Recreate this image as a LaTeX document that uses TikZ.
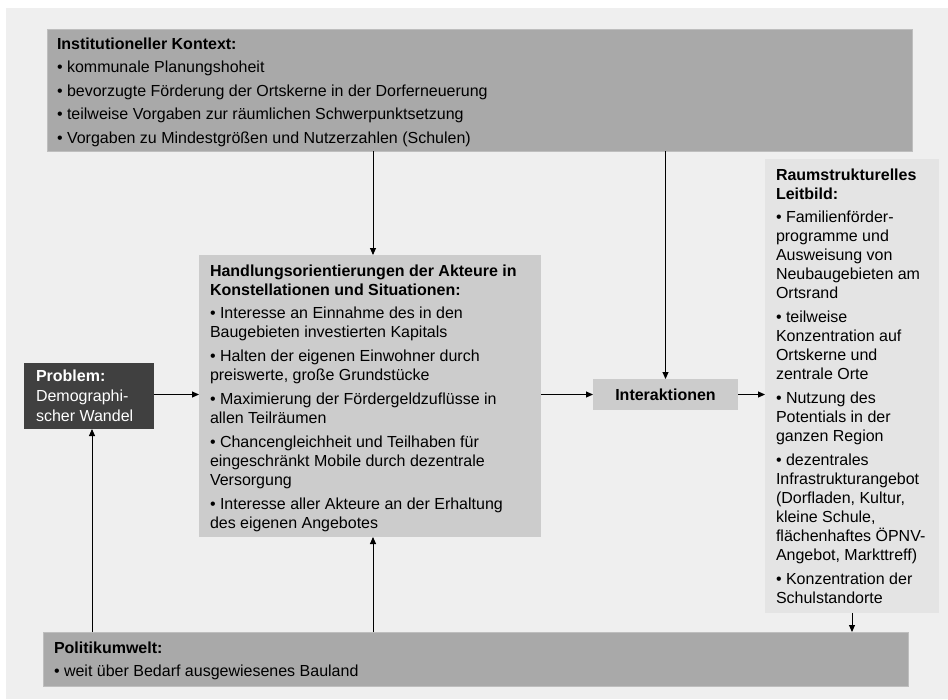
\documentclass[tikz,border=0pt]{standalone}
\usepackage{fontspec}
\setmainfont{Liberation Sans}
\usetikzlibrary{arrows.meta}
\definecolor{bgc}{HTML}{EFEFEF}
\definecolor{darkbox}{HTML}{A9A9A9}
\definecolor{darkedge}{HTML}{BEBEBE}
\definecolor{midbox}{HTML}{CCCCCC}
\definecolor{lightbox}{HTML}{E4E4E4}
\definecolor{probbox}{HTML}{404040}
\newcommand{\gp}{\\[4.8pt]}
\newcommand{\txt}[2]{\parbox[t]{#1}{\raggedright\fontsize{16pt}{19pt}\selectfont #2}}
\begin{document}
\begin{tikzpicture}[x=1pt,y=-1pt,
  boxbase/.style={anchor=north west,inner sep=0pt,outer sep=0pt},
  graybox/.style={boxbase,fill=darkbox,draw=darkedge,line width=0.6pt},
  midgray/.style={boxbase,fill=midbox},
  lightgray/.style={boxbase,fill=lightbox},
  darkgray/.style={boxbase,fill=probbox},
  label/.style={anchor=base west,inner sep=0pt,outer sep=0pt,align=left},
  arr/.style={line width=0.9pt,-{Triangle[length=7pt,width=6pt]}}
]
\useasboundingbox (0,0) rectangle (948,699);
\fill[white] (0,0) rectangle (948,699);
\fill[bgc] (6,8) rectangle (948,699);

% boxes
\node[graybox,minimum width=865pt,minimum height=122pt] (inst) at (47,29) {};
\node[midgray,minimum width=342pt,minimum height=282pt] (hand) at (199,255) {};
\node[darkgray,minimum width=130pt,minimum height=66pt] (prob) at (24,363) {};
\node[midgray,minimum width=145pt,minimum height=31pt] (inter) at (593,379) {};
\node[lightgray,minimum width=174pt,minimum height=454pt] (raum) at (765,159) {};
\node[graybox,minimum width=865pt,minimum height=54pt] (pol) at (43,632) {};

% helper coordinates
\coordinate (handtop) at ([xshift=3pt]hand.north);
\coordinate (handbot) at ([xshift=3pt]hand.south);
\coordinate (probbot) at ([xshift=3pt]prob.south);

% texts
\node[label] (insttext) at (57,49) {\txt{840pt}{%
\textbf{Institutioneller Kontext:}\\[4.5pt]
• kommunale Planungshoheit\\[4.5pt]
• bevorzugte Förderung der Ortskerne in der Dorferneuerung\\[4.5pt]
• teilweise Vorgaben zur räumlichen Schwerpunktsetzung\\[4.5pt]
• Vorgaben zu Mindestgrößen und Nutzerzahlen (Schulen)}};

\node[label] (handtext) at (210,276) {\txt{330pt}{%
\textbf{Handlungsorientierungen der Akteure in}\\
\textbf{Konstellationen und Situationen:}\gp
• Interesse an Einnahme des in den\\
Baugebieten investierten Kapitals\gp
• Halten der eigenen Einwohner durch\\
preiswerte, große Grundstücke\gp
• Maximierung der Fördergeldzuflüsse in\\
allen Teilräumen\gp
• Chancengleichheit und Teilhaben für\\
eingeschränkt Mobile durch dezentrale\\
Versorgung\gp
• Interesse aller Akteure an der Erhaltung\\
des eigenen Angebotes}};

\node[label] (raumtext) at (776,180) {\txt{170pt}{%
\textbf{Raumstrukturelles}\\
\textbf{Leitbild:}\gp
• Familienförder-\\
programme und\\
Ausweisung von\\
Neubaugebieten am\\
Ortsrand\gp
• teilweise\\
Konzentration auf\\
Ortskerne und\\
zentrale Orte\gp
• Nutzung des\\
Potentials in der\\
ganzen Region\gp
• dezentrales\\
Infrastrukturangebot\\
(Dorfladen, Kultur,\\
kleine Schule,\\
flächenhaftes ÖPNV-\\
Angebot, Markttreff)\gp
• Konzentration der\\
Schulstandorte}};

\node[label,text=white] (probtext) at (36,381) {\parbox[t]{115pt}{\raggedright\fontsize{16pt}{20pt}\selectfont
\textbf{Problem:}\\
Demographi-\\
scher Wandel}};

\node[inner sep=0pt,font=\fontsize{16pt}{19pt}\selectfont\bfseries] (intertext) at (inter.center) {Interaktionen};

\node[label] (poltext) at (54,653) {\txt{840pt}{%
\textbf{Politikumwelt:}\gp
• weit über Bedarf ausgewiesenes Bauland}};

% connectors
\draw[arr] (inst.south -| handtop) -- (handtop);
\draw[arr] (inst.south -| inter.north) -- (inter.north);
\draw[arr] (inter.west -| prob.east) -- (inter.west -| hand.west);
\draw[arr] (inter.west -| hand.east) -- (inter.west);
\draw[arr] (inter.east) -- (inter.east -| raum.west);
\draw[arr] (pol.north -| probbot) -- (probbot);
\draw[arr] (pol.north -| handbot) -- (handbot);
\draw[arr] (raum.south) -- (raum.south |- pol.north);
\end{tikzpicture}
\end{document}
